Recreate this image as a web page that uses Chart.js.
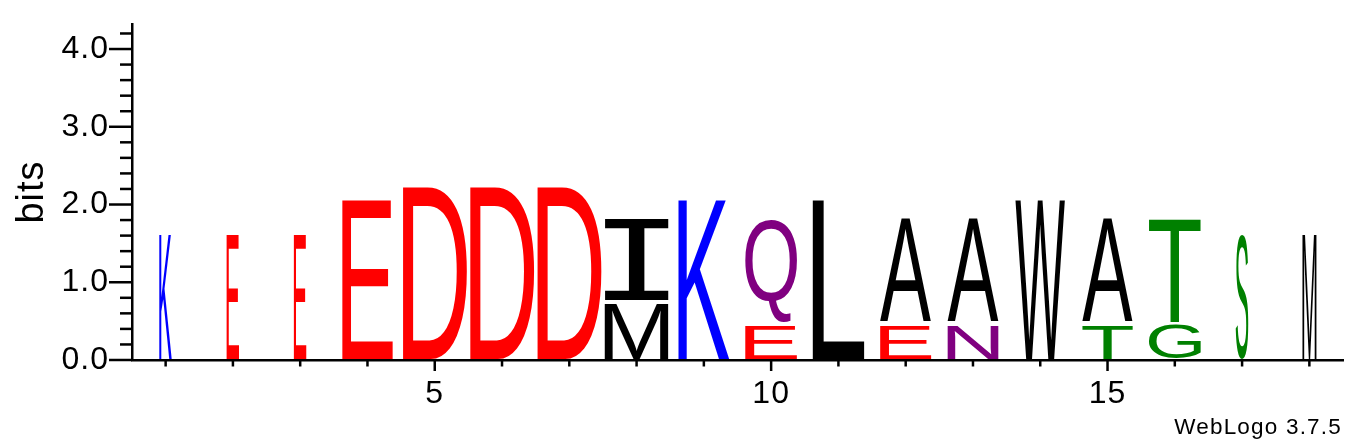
<!DOCTYPE html>
<html>
<head>
<meta charset="utf-8">
<script src="https://cdn.jsdelivr.net/npm/chart.js@4.4.1/dist/chart.umd.min.js"></script>
<style>
html,body{margin:0;padding:0;background:#fff;overflow:hidden}
#wrap{width:1366px;height:444px;position:relative}
</style>
</head>
<body>
<div id="wrap"><canvas id="c"></canvas></div>
<script>
const positions = ['1','2','3','4','5','6','7','8','9','10','11','12','13','14','15','16','17','18'];
// fraction of sequences present at each position (stack width)
const coverage = [0.197,0.195,0.195,0.79,1,1,1,1,0.8,0.81,0.81,0.8,0.8,0.78,0.79,0.81,0.197,0.22];
const lowerLetters = ['K','E','E','E','D','D','D','M','K','E','L','E','N','W','T','G','S','M'];
const lowerBits    = [1.64,1.64,1.64,2.09,2.25,2.25,2.25,0.75,2.09,0.47,2.09,0.47,0.47,2.09,0.47,0.47,1.64,1.64];
const upperLetters = ['','','','','','','','I','','Q','','A','A','','A','T','',''];
const upperBits    = [0,0,0,0,0,0,0,1.08,0,1.36,0,1.36,1.36,0,1.36,1.36,0,0];
const yTickValues = [0,1,2,3,4];
const xLabeledPositions = ['5','10','15'];
const maxBits = 4.3219;
const footerText = 'WebLogo 3.7.5';

// ---- styling ----
const letterColors = {K:'#0000ff',E:'#ff0000',D:'#ff0000',I:'#000000',M:'#000000',L:'#000000',
  A:'#000000',W:'#000000',Q:'#800080',N:'#800080',T:'#008000',G:'#008000',S:'#008000'};
const FONT = '"Liberation Sans", Arial, Helvetica, sans-serif';

function drawGlyph(ctx, ch, x, y, w, h, color){
  if (w <= 0 || h <= 0) return;
  ctx.save();
  ctx.letterSpacing = '0px';
  const fam = ch === 'I' ? '"DejaVu Sans Mono", monospace' : FONT;
  ctx.font = '200px ' + fam;
  ctx.textAlign = 'left';
  ctx.textBaseline = 'alphabetic';
  const m = ctx.measureText(ch);
  const iw = m.actualBoundingBoxLeft + m.actualBoundingBoxRight;
  const ih = m.actualBoundingBoxAscent + m.actualBoundingBoxDescent;
  ctx.translate(x, y);
  ctx.scale(w / iw, h / ih);
  ctx.fillStyle = color;
  ctx.fillText(ch, m.actualBoundingBoxLeft, m.actualBoundingBoxAscent);
  ctx.restore();
}

const logoPlugin = {
  id: 'logo',
  beforeDraw(chart){
    chart.ctx.letterSpacing = '1px';
  },
  afterDatasetsDraw(chart){
    const ctx = chart.ctx;
    chart.data.datasets.forEach((ds, di) => {
      const meta = chart.getDatasetMeta(di);
      meta.data.forEach((el, i) => {
        const ch = ds.letters[i];
        if (!ch || !ds.data[i]) return;
        const p = el.getProps(['x','y','base','width'], true);
        const w = p.width * coverage[i];
        const top = Math.min(p.y, p.base) + 1.5;
        const bottom = Math.max(p.y, p.base) - 1.5;
        drawGlyph(ctx, ch, p.x - w / 2, top, w, bottom - top, letterColors[ch]);
      });
    });
  },
  afterDraw(chart){
    const ctx = chart.ctx;
    const xs = chart.scales.x, ys = chart.scales.y;
    const area = chart.chartArea;
    ctx.save();
    ctx.strokeStyle = '#000';
    ctx.lineWidth = 2.5;
    ctx.lineCap = 'butt';
    // x ticks (one per position, longer at labelled ones)
    positions.forEach((p, i) => {
      const px = xs.getPixelForValue(i);
      const major = xLabeledPositions.includes(p);
      ctx.beginPath();
      ctx.moveTo(px, area.bottom);
      ctx.lineTo(px, area.bottom + (major ? 11 : 6.5));
      ctx.stroke();
    });
    // y ticks every 0.2 bits, longer at whole bits
    for (let k = 0; k / 5 <= maxBits; k++) {
      const py = ys.getPixelForValue(k / 5);
      const major = k % 5 === 0;
      ctx.beginPath();
      ctx.moveTo(area.left - (major ? 23 : 12), py);
      ctx.lineTo(area.left, py);
      ctx.stroke();
    }
    // footer
    ctx.letterSpacing = '1.2px';
    ctx.fillStyle = '#000';
    ctx.font = '22.5px ' + FONT;
    ctx.textAlign = 'right';
    ctx.textBaseline = 'alphabetic';
    ctx.fillText(footerText, 1342, 433.5);
    ctx.restore();
  }
};

Chart.defaults.color = '#000';
Chart.defaults.font.family = FONT;

new Chart(document.getElementById('c'), {
  type: 'bar',
  data: {
    labels: positions,
    datasets: [
      {label:'lower', data: lowerBits, letters: lowerLetters, backgroundColor:'rgba(0,0,0,0)', borderWidth:0,
       barPercentage:0.951, categoryPercentage:1},
      {label:'upper', data: upperBits, letters: upperLetters, backgroundColor:'rgba(0,0,0,0)', borderWidth:0,
       barPercentage:0.951, categoryPercentage:1}
    ]
  },
  options: {
    responsive: true,
    maintainAspectRatio: false,
    animation: false,
    events: [],
    layout: { padding: { top: 24, right: 23, left: 0, bottom: 0 } },
    plugins: { legend: { display: false }, tooltip: { enabled: false } },
    scales: {
      x: {
        type: 'category',
        stacked: true,
        offset: true,
        grid: { display: false, drawTicks: false },
        border: { display: true, color: '#000', width: 2.5 },
        ticks: {
          autoSkip: false,
          maxRotation: 0,
          padding: 15,
          color: '#000',
          font: { size: 32, family: FONT },
          callback: function(value){
            const lbl = this.getLabelForValue(value);
            return xLabeledPositions.includes(lbl) ? lbl : '';
          }
        },
        afterFit(s){ s.height = 84; s.paddingLeft = 0; s.paddingRight = 0; }
      },
      y: {
        type: 'linear',
        stacked: true,
        min: 0,
        max: maxBits,
        grid: { display: false, drawTicks: false },
        border: { display: true, color: '#000', width: 2.5 },
        title: { display: true, text: 'bits', color: '#000', font: { size: 38, family: FONT }, padding: { top: 10, bottom: 0 } },
        ticks: {
          padding: 23,
          color: '#000',
          includeBounds: false,
          font: { size: 32, family: FONT },
          callback: v => Number(v).toFixed(1)
        },
        afterBuildTicks(s){ s.ticks = yTickValues.map(v => ({ value: v })); },
        afterFit(s){ s.width = 132; s.paddingTop = 0; s.paddingBottom = 0; }
      }
    }
  },
  plugins: [logoPlugin]
});
</script>
</body>
</html>
